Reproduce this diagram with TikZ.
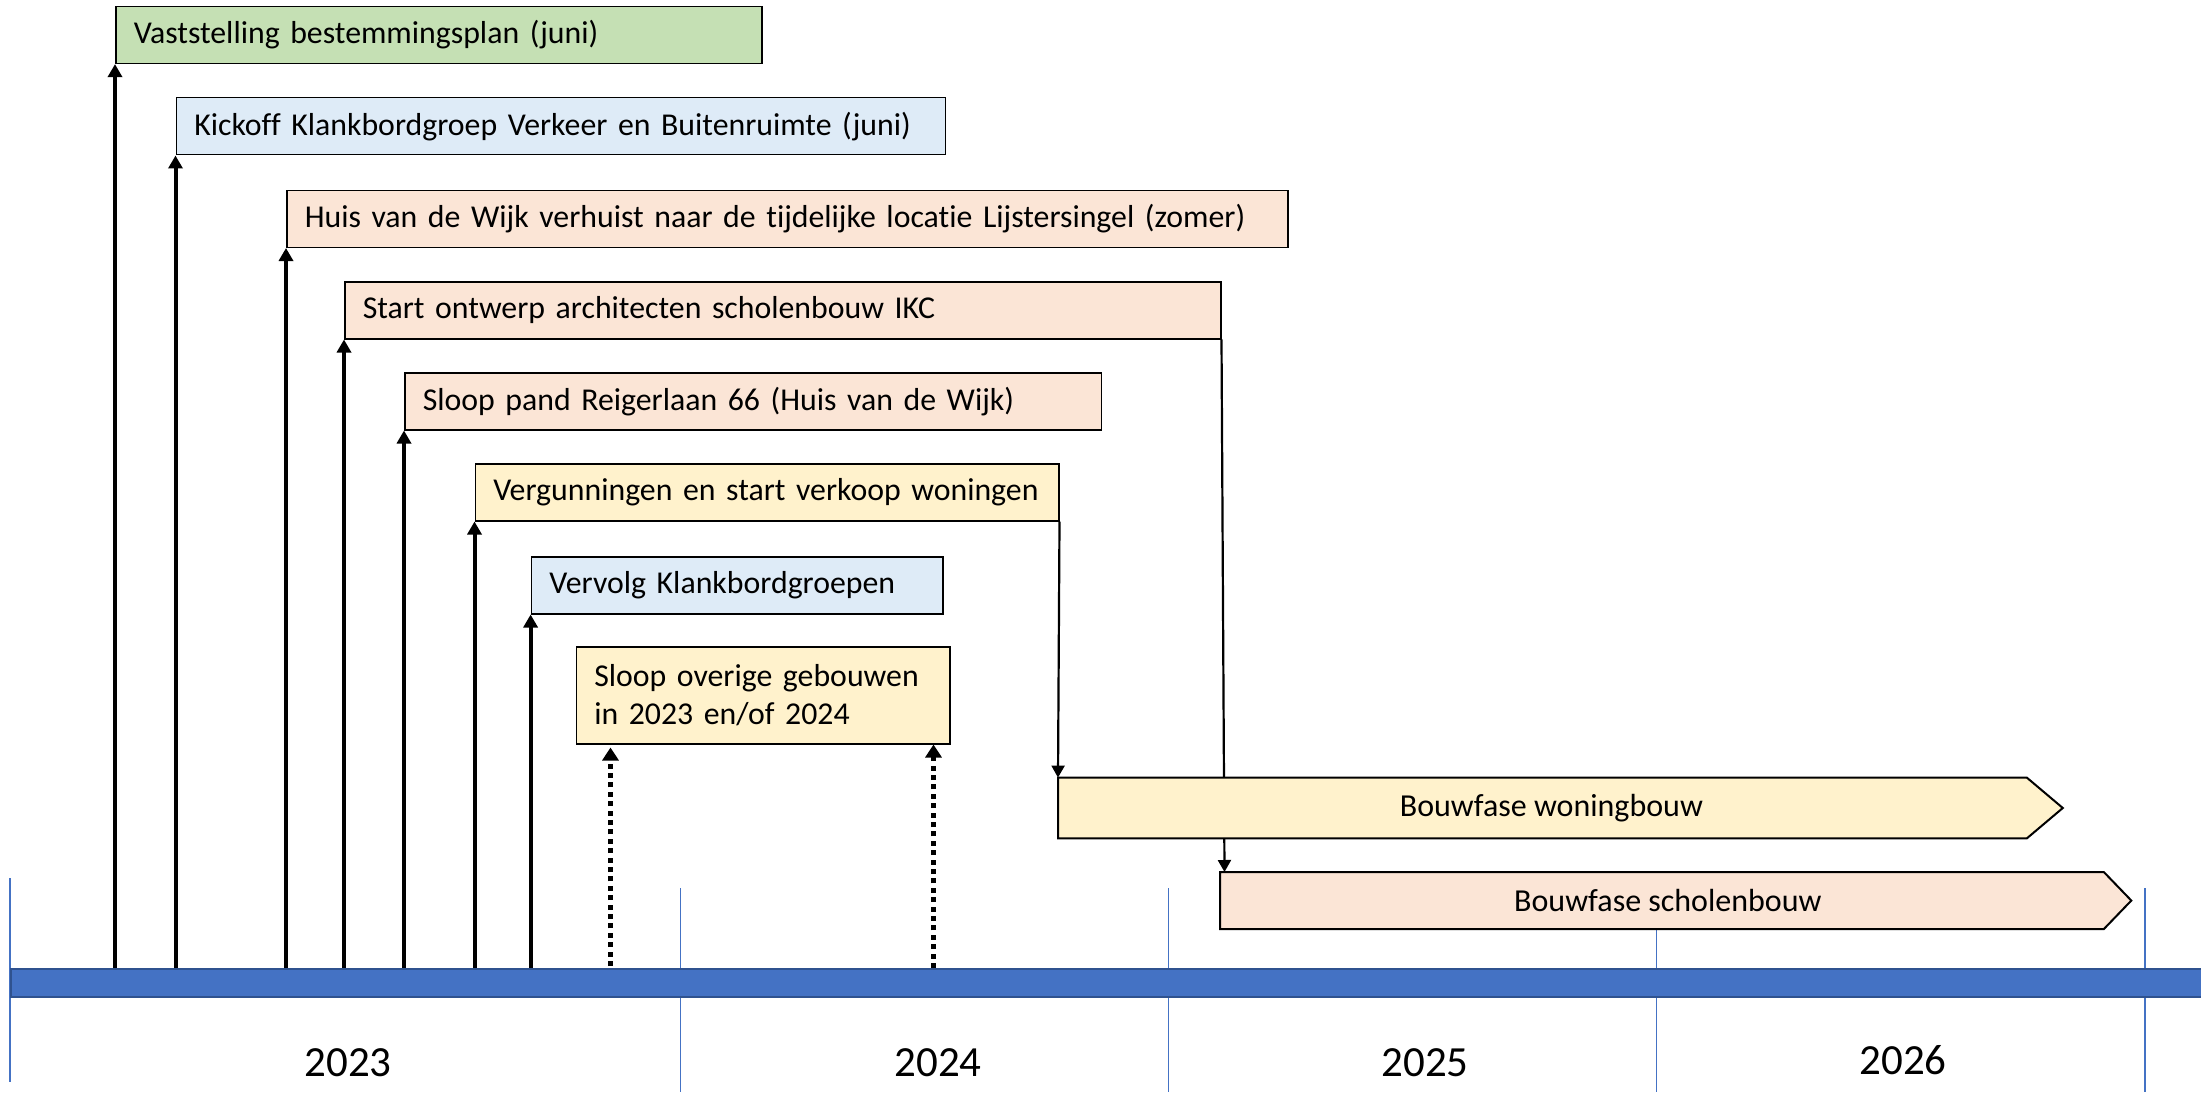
\documentclass[tikz,border=0pt]{standalone}
\usepackage{fontspec}
\setmainfont{Carlito}[Ligatures=NoCommon]
\usetikzlibrary{arrows.meta,backgrounds}
\definecolor{cgreen}{HTML}{C5E0B4}
\definecolor{cblue}{HTML}{DEEBF7}
\definecolor{cpeach}{HTML}{FBE5D6}
\definecolor{cyellow}{HTML}{FFF2CC}
\definecolor{cbar}{HTML}{4472C4}
\definecolor{cbarline}{HTML}{2F528F}
\begin{document}
\begin{tikzpicture}[x=0.5pt,y=-0.5pt,
  evbox/.style={draw=black,line width=0.75pt,anchor=north west,inner xsep=9pt,inner ysep=0pt,
    align=left,minimum height=28.5pt,font=\fontsize{15.9pt}{19.2pt}\selectfont},
  phaserect/.style={anchor=north west,inner sep=0pt},
  phaseshape/.style={draw=black,line width=1pt,line join=miter},
  phasetext/.style={font=\fontsize{16pt}{19pt}\selectfont},
  yeartext/.style={font=\fontsize{21.5pt}{26pt}\selectfont},
  yearline/.style={draw=cbar,line width=0.75pt},
  tharrow/.style={line width=2pt,-{Triangle[length=6.5pt,width=7pt]}},
  tnarrow/.style={line width=1.1pt,-{Triangle[length=6pt,width=6.5pt]}},
  dotarrow/.style={line width=2.3pt,dash pattern=on 2.5pt off 2.2pt,-{Triangle[length=6.5pt,width=8pt]}}]
\useasboundingbox (0,0) rectangle (2201,1097);

% timeline bar
\node[draw=cbarline,fill=cbar,line width=1pt,anchor=north west,inner sep=0pt,
  minimum width=1096pt,minimum height=13.75pt] (bar) at (10,968) {};

% event boxes
\node[evbox,fill=cgreen,text width=305pt] (b1) at (115,5.6) {\mbox{Vaststelling bestemmingsplan (juni)}};
\node[evbox,fill=cblue,text width=366.5pt] (b2) at (175.5,97) {\mbox{Kickoff Klankbordgroep Verkeer en Buitenruimte (juni)}};
\node[evbox,fill=cpeach,text width=482.5pt] (b3) at (286,189.5) {\mbox{Huis van de Wijk verhuist naar de tijdelijke locatie Lijstersingel (zomer)}};
\node[evbox,fill=cpeach,text width=420pt] (b4) at (344,281) {\mbox{Start ontwerp architecten scholenbouw IKC}};
\node[evbox,fill=cpeach,text width=330.25pt] (b5) at (404,372) {\mbox{Sloop pand Reigerlaan 66 (Huis van de Wijk)}};
\node[evbox,fill=cyellow,text width=273.75pt] (b6) at (474.5,463) {\mbox{Vergunningen en start verkoop woningen}};
\node[evbox,fill=cblue,text width=187.7pt] (b7) at (530.6,556) {\mbox{Vervolg Klankbordgroepen}};
\node[evbox,fill=cyellow,text width=168.75pt,minimum height=48.5pt] (b8) at (575.5,646) {\mbox{Sloop overige gebouwen}\\\mbox{in 2023 en/of 2024}};

% phase arrows
\node[phaserect,minimum width=484pt,minimum height=30pt] (wb) at (1058,777.6) {};
\draw[phaseshape,fill=cyellow] (wb.north west) -- (wb.north east) -- ([xshift=18pt]wb.east)
  -- (wb.south east) -- (wb.south west) -- cycle;
\node[phasetext] (wbt) at ([xshift=4.5pt]wb.center) {Bouwfase woningbouw};

\node[phaserect,minimum width=441.5pt,minimum height=28.15pt] (sb) at (1220,872) {};
\draw[phaseshape,fill=cpeach] (sb.north west) -- (sb.north east) -- ([xshift=13.75pt]sb.east)
  -- (sb.south east) -- (sb.south west) -- cycle;
\node[phasetext] (sbt) at ([xshift=3pt]sb.center) {Bouwfase scholenbouw};

% year labels
\node[yeartext] (y23) at (348,1063) {2023};
\node[yeartext] (y24) at (938,1063) {2024};
\node[yeartext] (y25) at (1425,1063) {2025};
\node[yeartext] (y26) at (1903,1060) {2026};

\begin{pgfonlayer}{background}
  \draw[yearline] (9.8,878) -- (9.8,1082);
  \draw[yearline] (680.7,888) -- (680.7,1092);
  \draw[yearline] (1168.3,888) -- (1168.3,1092);
  \draw[yearline] (1656.4,888) -- (1656.4,1092);
  \draw[yearline] (2145,888) -- (2145,1092);

  \draw[tharrow] (b1.south west |- bar.north) -- (b1.south west);
  \draw[tharrow] (b2.south west |- bar.north) -- (b2.south west);
  \draw[tharrow] (b3.south west |- bar.north) -- (b3.south west);
  \draw[tharrow] (b4.south west |- bar.north) -- (b4.south west);
  \draw[tharrow] (b5.south west |- bar.north) -- (b5.south west);
  \draw[tharrow] (b6.south west |- bar.north) -- (b6.south west);
  \draw[tharrow] (b7.south west |- bar.north) -- (b7.south west);

  \draw[dotarrow] ([xshift=17.5pt,yshift=1pt]b8.south west |- bar.north) -- ([xshift=17.5pt,yshift=-1.5pt]b8.south west);
  \draw[dotarrow] ([xshift=-8.5pt]b8.south east |- bar.north) -- ([xshift=-8.5pt]b8.south east);

  \draw[tnarrow] (b6.south east) -- (wb.north west);
  \draw[tnarrow] (b4.south east) -- ([xshift=1.5pt]b4.south east |- sb.north);
\end{pgfonlayer}
\end{tikzpicture}
\end{document}
